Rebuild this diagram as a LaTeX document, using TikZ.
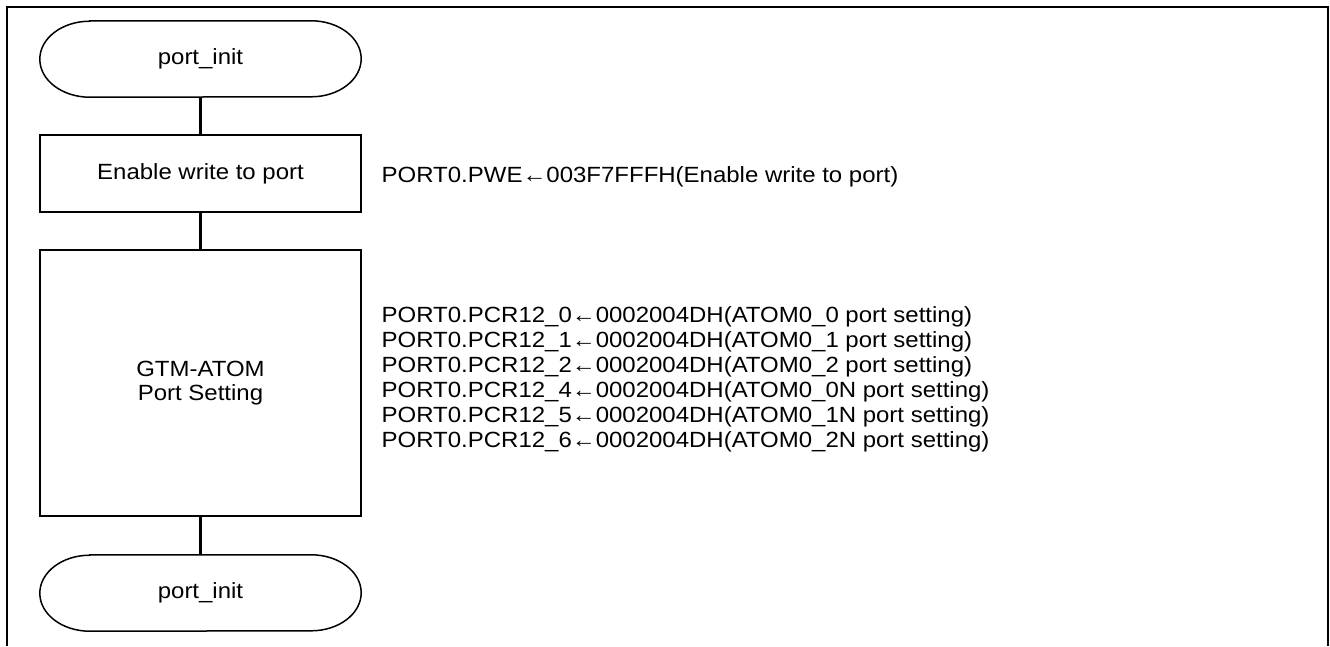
\documentclass[tikz,border=0pt]{standalone}
\usepackage{fontspec}
\setmainfont{Liberation Sans}[FakeStretch=1.09]
\begin{document}
\begin{tikzpicture}[x=1pt,y=-1pt,
  txt/.style={font=\fontsize{22}{24}\selectfont, inner sep=0pt},
  procbox/.style={draw, line width=1.5pt, minimum width=321pt, inner sep=0pt, txt, align=center},
  termbox/.style={minimum width=321pt, minimum height=76pt, inner sep=0pt, txt},
  termline/.style={line width=1.5pt},
  conn/.style={line width=2.5pt},
  frameline/.style={line width=2.8pt},
  regtxt/.style={txt, anchor=base west}]
\useasboundingbox (0,0) rectangle (1330,646);
\draw[frameline] (7,646) -- (7,7) -- (1328,7) -- (1328,646);
% nodes
\node[termbox] (t1) at (200.5,59) {port\_init};
\node[procbox, minimum height=77pt] (b1) at (200.5,173.5) {Enable write to port};
\node[procbox, minimum height=266pt] (b2) at (200.5,383) {GTM-ATOM\\Port Setting};
\node[termbox] (t2) at (200.5,593) {port\_init};
% terminator outlines
\draw[termline] ([xshift=50pt]t1.north west) -- ([xshift=-50pt]t1.north east)
  arc[start angle=90, end angle=-90, x radius=50pt, y radius=38pt]
  -- ([xshift=50pt]t1.south west)
  arc[start angle=270, end angle=90, x radius=50pt, y radius=38pt] -- cycle;
\draw[termline] ([xshift=50pt]t2.north west) -- ([xshift=-50pt]t2.north east)
  arc[start angle=90, end angle=-90, x radius=50pt, y radius=38pt]
  -- ([xshift=50pt]t2.south west)
  arc[start angle=270, end angle=90, x radius=50pt, y radius=38pt] -- cycle;
% connectors
\draw[conn] (t1.south) -- (b1.north);
\draw[conn] (b1.south) -- (b2.north);
\draw[conn] (b2.south) -- (t2.north);
% register texts
\node[regtxt] (r0) at (381.5,182) {PORT0.PWE←003F7FFFH(Enable write to port)};
\node[regtxt] (r1) at (381.5,322) {PORT0.PCR12\_0←0002004DH(ATOM0\_0 port setting)};
\node[regtxt] (r2) at (381.5,347) {PORT0.PCR12\_1←0002004DH(ATOM0\_1 port setting)};
\node[regtxt] (r3) at (381.5,372) {PORT0.PCR12\_2←0002004DH(ATOM0\_2 port setting)};
\node[regtxt] (r4) at (381.5,397) {PORT0.PCR12\_4←0002004DH(ATOM0\_0N port setting)};
\node[regtxt] (r5) at (381.5,422) {PORT0.PCR12\_5←0002004DH(ATOM0\_1N port setting)};
\node[regtxt] (r6) at (381.5,447) {PORT0.PCR12\_6←0002004DH(ATOM0\_2N port setting)};
\end{tikzpicture}
\end{document}
